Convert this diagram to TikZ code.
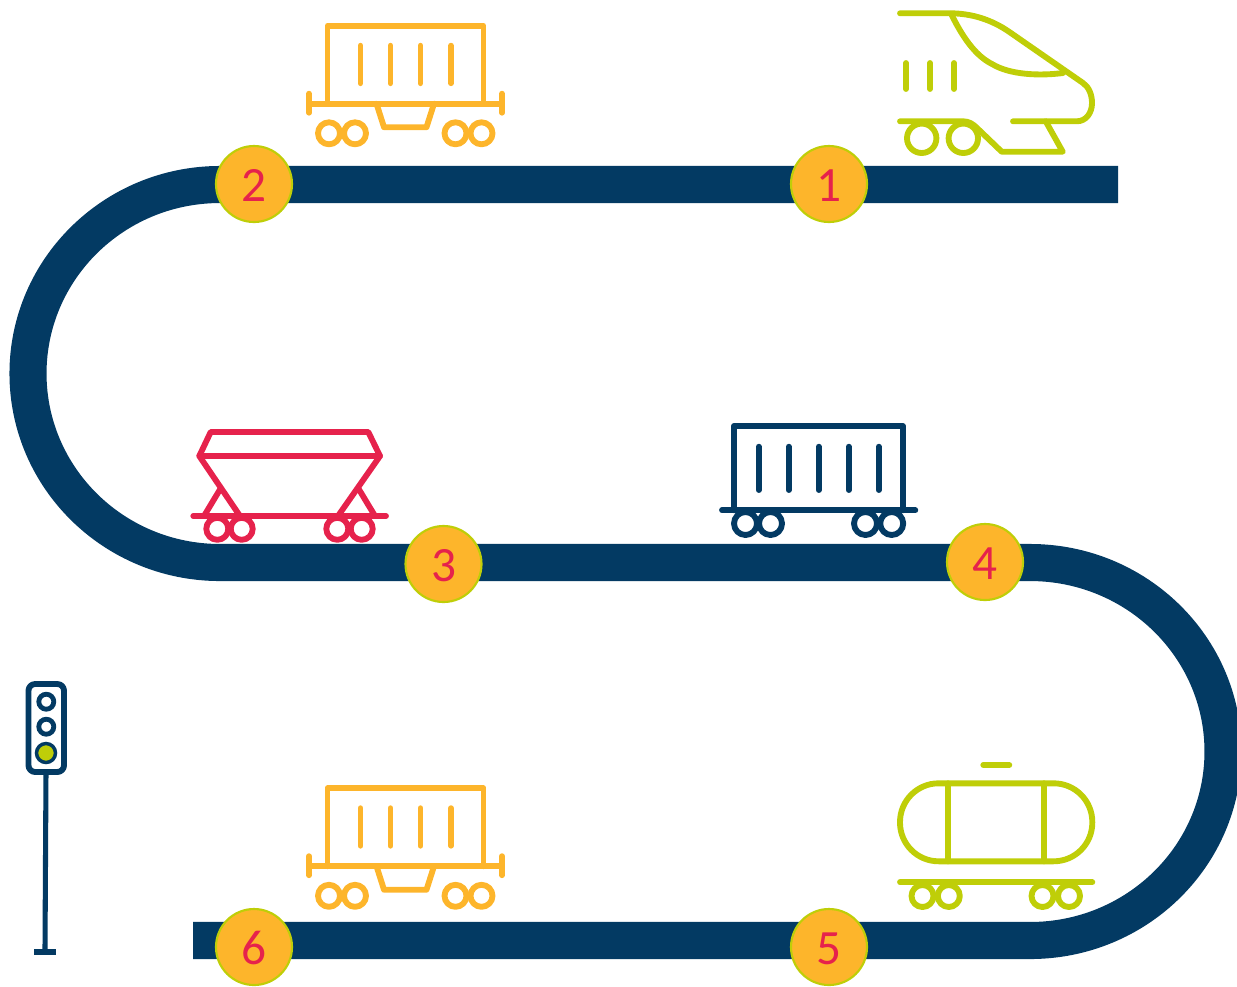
\documentclass[tikz,border=0pt]{standalone}
\usepackage{fontspec}
\setmainfont{Carlito}
\definecolor{tracknavy}{HTML}{033A63}
\definecolor{railorange}{HTML}{FDB52B}
\definecolor{raillime}{HTML}{BFCE08}
\definecolor{railred}{HTML}{E6224C}
\tikzset{
  track/.style={draw=tracknavy, line width=27.8pt},
  stopnode/.style={circle, draw=raillime, fill=railorange, line width=1.6pt, minimum size=57pt, inner sep=0pt, text=railred, text height=26pt, text depth=0pt, font=\fontsize{37}{42}\selectfont},
  railline/.style={line width=4.4pt, line cap=round, line join=round},
  wagon/.pic={
    \draw[railline] (0,78) -- (0,0) -- (156,0) -- (156,78);
    \draw[railline] (-18.5,78) -- (174.5,78);
    \draw[railline] (-18.5,68) -- (-18.5,87);
    \draw[railline] (174.5,68) -- (174.5,87);
    \draw[railline] (49,78) -- (56.5,101.5) -- (99,101.5) -- (106.5,78);
    \foreach \barx in {33,63,93,123.5}
      \draw[railline] (\barx,20) -- (\barx,57.5);
    \foreach \wheelx in {1.5,27.5,128,154}
      \draw[railline] (\wheelx,107.6) circle (11);
  }
}
\begin{document}
\begin{tikzpicture}[x=0.75pt,y=-0.75pt]
\useasboundingbox (0,0) rectangle (1237,986);
\draw[track] (1118,184.5) -- (220,184.5) arc[start angle=270, end angle=90, x radius=192, y radius=189] -- (1030,562.5) arc[start angle=-90, end angle=90, x radius=193, y radius=189] -- (193,940.5);

\node[stopnode] (stop1) at (829,184) {1};
\node[stopnode] (stop2) at (254,184) {2};
\node[stopnode] (stop3) at (443.5,564) {3};
\node[stopnode] (stop4) at (985,562) {4};
\node[stopnode] (stop5) at (829,947) {5};
\node[stopnode] (stop6) at (254,947) {6};

\pic[railorange] (wagontop) at (327.5,25.7) {wagon};
\pic[railorange] (wagonbottom) at (327.5,788.2) {wagon};

\begin{scope}[raillime]
\draw[railline] (900,13.3) -- (950,13.3) .. controls (972,13.3) and (992,20) .. (1009,31.7) -- (1083,83) .. controls (1089,87) and (1092,95) .. (1092,103) .. controls (1092,113) and (1086,121.3) .. (1076.7,121.3) -- (1013,121.3);
\draw[railline] (951.7,15) .. controls (965,42) and (978,57) .. (992,64) .. controls (1010,75) and (1040,76) .. (1063,73);
\foreach \barx in {906,930,954}
  \draw[railline] (\barx,63) -- (\barx,89);
\draw[railline] (900,121.3) -- (963,121.3) .. controls (969,121.3) and (973,124) .. (977,128) -- (1001.7,151.7) -- (1062.7,151.7) -- (1045.7,121.3);
\foreach \wheelx in {921.7,963.3}
  \draw[railline] (\wheelx,138.3) circle (14.7);

\draw[railline] (983.3,765) -- (1009.3,765);
\draw[railline, rounded corners=29pt] (900,783.3) rectangle (1092.3,861.3);
\draw[railline] (948.3,783.3) -- (948.3,861.3);
\draw[railline] (1044,783.3) -- (1044,861.3);
\draw[railline] (900,882.3) -- (1092.3,882.3);
\foreach \wheelx in {922.5,948.8,1042.5,1069}
  \draw[railline] (\wheelx,896) circle (11);
\end{scope}

\begin{scope}[railred]
\draw[railline] (210.7,432) -- (368.3,432) -- (380,456) -- (199.3,456) -- cycle;
\draw[railline] (199.3,456) -- (240,516);
\draw[railline] (380,456) -- (338,516);
\draw[railline] (220.7,488.3) -- (204,516);
\draw[railline] (358.3,488.3) -- (375,516);
\draw[railline] (193.3,516) -- (386,516);
\foreach \wheelx in {217.3,241.7,337.3,361.7}
  \draw[railline] (\wheelx,528.8) circle (11);
\end{scope}

\begin{scope}[tracknavy]
\draw[railline] (734,510.3) -- (734,426) -- (902.7,426) -- (902.7,510.3);
\draw[railline] (722,510.3) -- (915.3,510.3);
\foreach \barx in {758.7,788.7,818.7,848.7,878.7}
  \draw[railline] (\barx,446.7) -- (\barx,490);
\foreach \wheelx in {745.5,770.5,865.5,891.7}
  \draw[railline] (\wheelx,523.5) circle (11.5);

\draw[railline, rounded corners=5pt] (28.5,684) rectangle (64,772);
\draw[line width=3.6pt] (46.3,701.7) circle (7.5);
\draw[line width=3.6pt] (46.3,726.7) circle (7.5);
\draw[line width=2.6pt, fill=raillime] (46,753) circle (9.5);
\draw[line width=3.8pt] (46,772) -- (45,950);
\draw[line width=3.8pt] (34,952) -- (56,952);
\end{scope}
\end{tikzpicture}
\end{document}
